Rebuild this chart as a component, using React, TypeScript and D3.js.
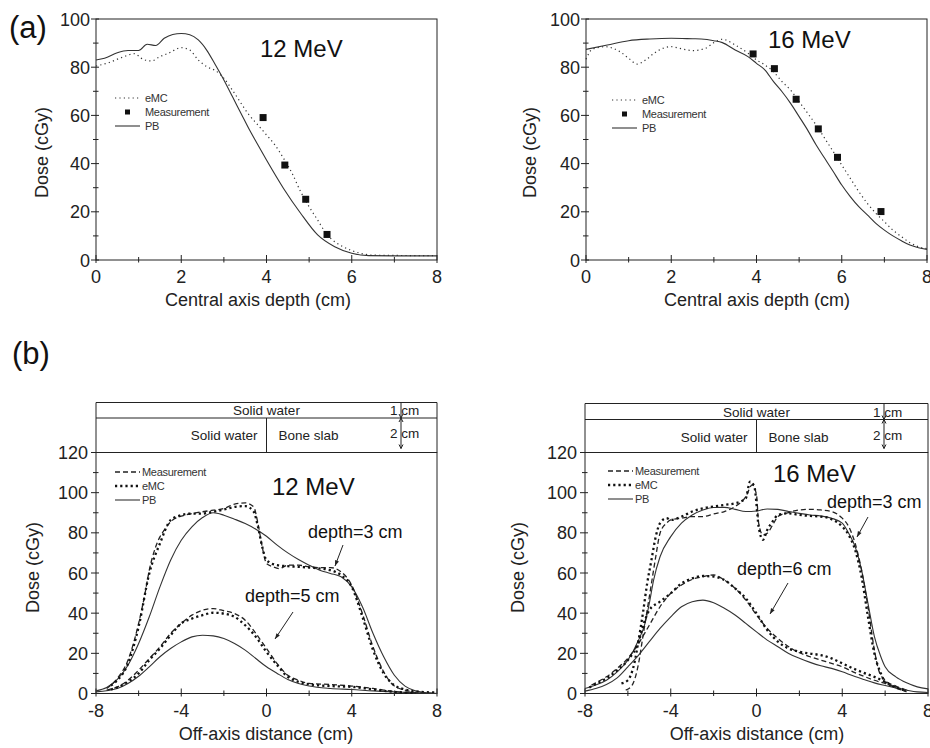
import React from "react";
import * as d3 from "d3";

type Pt = [number, number];

// ---------- (a) 12 MeV, central axis depth dose ----------
const pb12Depth: Pt[] = [
  [0, 83], [0.2, 83.7], [0.5, 86], [0.75, 86.9], [1, 86.9], [1.2, 89.5], [1.4, 89], [1.6, 92],
  [1.8, 93.6], [2, 94], [2.2, 93.5], [2.4, 91.3], [2.6, 87], [2.8, 81], [3, 74.7], [3.2, 67.8],
  [3.4, 60.9], [3.6, 54], [3.8, 47.7], [4, 41.5], [4.4, 29.7], [4.8, 19.4], [5.2, 10.4],
  [5.6, 5.5], [6, 2.8], [6.4, 1.8], [7, 1.7], [8, 1.7],
];
const emc12Depth: Pt[] = [
  [0, 80.5], [0.3, 81.9], [0.6, 84], [0.9, 85.6], [1.1, 83.3], [1.3, 82.6], [1.5, 84.4], [1.7, 85.8],
  [2, 88.1], [2.2, 87.1], [2.4, 83], [2.6, 80.2], [2.8, 78.6], [3, 75.4], [3.2, 70.5], [3.6, 60],
  [3.8, 56], [4, 51.9], [4.2, 47.7], [4.4, 42.2], [4.6, 36], [4.8, 28.4], [5, 22.1], [5.2, 16.6],
  [5.4, 11], [5.6, 7.6], [5.8, 5.5], [6, 3.9], [6.2, 2.8], [6.5, 2], [8, 1.8],
];
const meas12Depth: Pt[] = [[3.92, 59.1], [4.43, 39.4], [4.92, 25.2], [5.42, 10.6]];

// ---------- (a) 16 MeV ----------
const pb16Depth: Pt[] = [
  [0, 87.4], [0.5, 89.2], [1, 91], [1.5, 91.7], [2, 92], [2.5, 91.8], [2.7, 91.7], [3, 91],
  [3.2, 90.2], [3.5, 87.1], [3.8, 84.4], [4, 81.6], [4.2, 78.8], [4.4, 74], [4.6, 69.8], [4.8, 65],
  [5, 59.5], [5.2, 53.9], [5.4, 47.7], [5.6, 42.2], [5.8, 36.7], [6, 31.1], [6.2, 26.3], [6.4, 22.1],
  [6.6, 18.7], [6.8, 15.2], [7, 12.4], [7.2, 10], [7.4, 8], [7.6, 6.2], [7.8, 5.1], [8, 4.4],
];
const emc16Depth: Pt[] = [
  [0, 83.3], [0.15, 87.5], [0.45, 88.5], [0.8, 86.4], [1, 83.7], [1.2, 81.3], [1.4, 83], [1.6, 85.8],
  [1.8, 87.8], [2, 88.5], [2.2, 87.8], [2.5, 86.9], [2.8, 87.8], [3, 90.2], [3.2, 91.6], [3.5, 89.2],
  [3.8, 85.8], [4, 83], [4.2, 80.9], [4.4, 78.1], [4.6, 74], [4.8, 70.5], [5, 65.7], [5.2, 60.9],
  [5.4, 56], [5.6, 50.5], [5.8, 45], [6, 39.4], [6.2, 33.9], [6.4, 28.4], [6.6, 23.5], [6.8, 19.4],
  [7, 15.9], [7.2, 12.4], [7.4, 9.7], [7.6, 7.2], [7.8, 5.5], [8, 4.7],
];
const meas16Depth: Pt[] = [[3.92, 85.5], [4.42, 79.4], [4.93, 66.7], [5.45, 54.4], [5.9, 42.6], [6.92, 20.1]];

// ---------- (b) 12 MeV off-axis profiles ----------
const pb12d3: Pt[] = [
  [-8, 1.3], [-7.5, 3], [-7, 7], [-6.5, 14.1], [-6, 24.9], [-5.5, 38.2], [-5, 53.1], [-4.5, 66.4],
  [-4, 76.3], [-3.5, 83], [-3, 87.6], [-2.5, 90], [-2, 88.8], [-1.5, 86.8], [-1, 84.6], [-0.5, 81.8],
  [0, 78.3], [0.5, 73.9], [1, 70], [1.5, 66.7], [2, 63.9], [2.5, 61.4], [3, 59.8], [3.5, 58.1],
  [4, 53.1], [4.5, 43.2], [5, 29.9], [5.5, 18.3], [6, 9.1], [6.5, 3.7], [7, 1.3], [7.5, 0.3], [8, 0],
];
const meas12d3: Pt[] = [
  [-7.5, 2.5], [-7, 7.5], [-6.5, 16.6], [-6, 34.9], [-5.7, 49.8], [-5.5, 61.4], [-5.2, 73], [-5, 78],
  [-4.8, 81.3], [-4.5, 85.5], [-4, 88.3], [-3.5, 89.6], [-3, 90.5], [-2.5, 91.3], [-2, 92.1],
  [-1.5, 94.3], [-1, 94.9], [-0.6, 92.9], [-0.4, 84.6], [-0.2, 73], [0, 64.7], [0.3, 63.1],
  [0.6, 62.2], [1, 63.9], [1.5, 63.9], [2, 63.1], [2.5, 62.7], [3, 62.7], [3.5, 60.6], [4, 53.9],
  [4.5, 39.8], [5, 23.2], [5.5, 10.8], [6, 3.7], [6.5, 1.7], [7, 0.5], [8, 0],
];
const emc12d3: Pt[] = [
  [-7.3, 4], [-7, 6.6], [-6.5, 14.9], [-6, 33.2], [-5.5, 59.8], [-5, 74.7], [-4.5, 86.3], [-4, 88.8],
  [-3.5, 89.6], [-3, 89.6], [-2.5, 90.5], [-2, 91.6], [-1.5, 92.9], [-1, 93.3], [-0.6, 90.5],
  [-0.4, 83], [-0.2, 73], [0, 66.4], [0.5, 63.9], [1, 63.4], [2, 62.7], [3, 61.4], [3.5, 58.9],
  [4, 53.1], [4.5, 38.2], [5, 21.6], [5.5, 10], [6, 4.1], [6.5, 2], [7, 1], [8, 0.5],
];
const pb12d5: Pt[] = [
  [-8, 0.8], [-7, 2.5], [-6.5, 5], [-6, 8.6], [-5.5, 13.3], [-5, 18.3], [-4.5, 22.4], [-4, 25.7],
  [-3.5, 28.2], [-3, 29], [-2.5, 28.7], [-2, 27.4], [-1.5, 24.9], [-1, 21.6], [-0.5, 17.4], [0, 13.3],
  [0.5, 10], [1, 7], [1.5, 5], [2, 3.7], [3, 2.5], [4, 2], [5, 1.3], [6, 0.8], [7, 0.3], [8, 0],
];
const meas12d5: Pt[] = [
  [-7.5, 1.7], [-7, 3.3], [-6.5, 6.6], [-6, 11.6], [-5.5, 17.4], [-5, 23.2], [-4.5, 29.9], [-4, 34.9],
  [-3.5, 39], [-3, 41.5], [-2.5, 42.3], [-2, 41.2], [-1.5, 39.8], [-1, 36.5], [-0.5, 29.9], [0, 22.4],
  [0.5, 14.9], [1, 9.1], [1.5, 6.6], [2, 5], [3, 4.5], [4, 3.7], [5, 2.5], [5.5, 1.7], [6, 1], [7, 0.3],
];
const emc12d5: Pt[] = [
  [-7.3, 2], [-7, 3], [-6.5, 5.8], [-6, 10], [-5.5, 16.6], [-5, 22.4], [-4.5, 29], [-4, 34.9],
  [-3.5, 37.3], [-3, 39], [-2.5, 40.2], [-2, 39.8], [-1.5, 38.2], [-1, 34], [-0.5, 28.2], [0, 20.7],
  [0.5, 14.1], [1, 8.3], [1.5, 5.8], [2, 4.6], [3, 3.7], [4, 3.3], [5, 2], [6, 0.8], [7, 0.3],
];

// ---------- (b) 16 MeV off-axis profiles ----------
const pb16d3: Pt[] = [
  [-8, 2.5], [-7.5, 4.2], [-7, 6.6], [-6.5, 10.8], [-6, 16.6], [-5.5, 26.6], [-5.2, 34.9], [-5, 44.9],
  [-4.8, 56.5], [-4.5, 68.1], [-4, 78.1], [-3.5, 84.8], [-3, 88.9], [-2.5, 91.4], [-2, 92.6],
  [-1.5, 92.7], [-1, 91.7], [-0.5, 90.6], [0, 90.9], [0.5, 91.9], [1, 91.7], [1.5, 90.6], [2, 89.7],
  [2.5, 88.9], [3, 88.4], [3.5, 87.3], [4, 84.8], [4.3, 79.8], [4.6, 73.1], [4.9, 61.5], [5.2, 44.9],
  [5.5, 28.3], [5.8, 18.3], [6, 13.3], [6.5, 8.3], [7, 5.3], [7.5, 3.3], [8, 2.3],
];
const meas16d3: Pt[] = [
  [-6.1, 1.7], [-5.8, 4.2], [-5.5, 15], [-5.3, 28.3], [-5.1, 41.5], [-4.9, 54.8], [-4.7, 68.1],
  [-4.5, 79.8], [-4.2, 84.8], [-4, 86.4], [-3.5, 87.3], [-3, 88.1], [-2.5, 88.1], [-2, 89.4],
  [-1.5, 90.6], [-1, 93.1], [-0.5, 98], [-0.2, 103.9], [0, 98.9], [0.1, 84.8], [0.3, 79], [0.5, 79.8],
  [0.8, 84.8], [1, 88.1], [1.5, 90.1], [2, 91.4], [2.5, 91.7], [3, 91.4], [3.5, 90.6], [4, 87.3],
  [4.3, 83.1], [4.6, 74.8], [4.9, 61.5], [5.2, 43.2], [5.5, 21.6], [5.7, 11.6], [6, 6.6], [6.5, 3.7],
  [7, 1.7],
];
const emc16d3: Pt[] = [
  [-6.3, 5], [-6, 6.6], [-5.7, 15], [-5.5, 26.6], [-5.3, 39.9], [-5.1, 54.8], [-4.9, 66.5], [-4.7, 78.1],
  [-4.5, 84.8], [-4.2, 87.3], [-4, 86.4], [-3.5, 88.1], [-3, 90.6], [-2.5, 92.2], [-2, 93.1],
  [-1.5, 93.9], [-1, 94.7], [-0.5, 97.2], [-0.3, 105.5], [-0.1, 103], [0.1, 83.1], [0.3, 76.5],
  [0.5, 81.4], [0.8, 86.4], [1, 88.9], [1.5, 89.7], [2, 88.9], [2.5, 88.4], [3, 88.1], [3.5, 86.8],
  [4, 83.1], [4.3, 78.9], [4.6, 71.5], [4.9, 58.2], [5.2, 38.2], [5.5, 19.9], [5.8, 10], [6, 5.8],
  [6.5, 3], [7, 1.3],
];
const pb16d6: Pt[] = [
  [-8, 1.2], [-7.5, 2.5], [-7, 4.5], [-6.5, 7.8], [-6, 13.3], [-5.5, 19.1], [-5, 25.8], [-4.5, 32.4],
  [-4, 38.2], [-3.5, 43.2], [-3, 45.7], [-2.5, 46.5], [-2, 45.2], [-1.5, 42.4], [-1, 39.1], [-0.5, 34.9],
  [0, 30.7], [0.5, 26.6], [1, 23.3], [1.5, 19.9], [2, 17.5], [2.5, 15.5], [3, 13.8], [3.5, 12.5],
  [4, 10.8], [4.5, 8.8], [5, 7], [5.5, 5.3], [6, 4], [6.5, 2.8], [7, 1.7], [7.5, 0.8], [8, 0.5],
];
const meas16d6: Pt[] = [
  [-7.7, 4.2], [-7.5, 5.3], [-7, 8.3], [-6.5, 12.5], [-6, 17.5], [-5.5, 24.9], [-5, 34], [-4.5, 43.2],
  [-4, 49.9], [-3.5, 54], [-3, 56.8], [-2.5, 58.2], [-2, 59], [-1.5, 56.5], [-1, 52.4], [-0.5, 46.5],
  [0, 39.1], [0.5, 32.4], [1, 27.4], [1.5, 23.3], [2, 20.3], [2.5, 18.3], [3, 16.6], [3.5, 15],
  [4, 13.3], [4.5, 10.8], [5, 8.6], [5.5, 6.6], [6, 5], [6.5, 3], [7, 0.8],
];
const emc16d6: Pt[] = [
  [-7.8, 3], [-7.5, 4.7], [-7, 7.5], [-6.5, 11.6], [-6, 16.6], [-5.5, 25.8], [-5.2, 36.6], [-5, 41.5],
  [-4.5, 45.7], [-4, 49.9], [-3.5, 54.8], [-3, 57.3], [-2.5, 58.5], [-2, 58.2], [-1.5, 56.5], [-1, 52.4],
  [-0.5, 47.4], [0, 39.9], [0.5, 31.6], [1, 25.8], [1.5, 22.4], [2, 20.8], [2.5, 19.9], [3, 19.1],
  [3.5, 17.5], [4, 15], [4.5, 12.5], [5, 10.3], [5.5, 8.3], [6, 5.8], [6.5, 3], [7, 1.3],
];

// ---------- tick values & labels ----------
const depthMajor = [0, 2, 4, 6, 8];
const depthMinor = [1, 3, 5, 7];
const doseMajorA = [0, 20, 40, 60, 80, 100];
const doseMinorA = [10, 30, 50, 70, 90];
const offMajor = [-8, -4, 0, 4, 8];
const offMinor = [-6, -2, 2, 6];
const doseMajorB = [0, 20, 40, 60, 80, 100, 120];
const doseMinorB = [10, 30, 50, 70, 90, 110];
const legendA = ["eMC", "Measurement", "PB"];
const legendB = ["Measurement", "eMC", "PB"];

const FONT = "'Liberation Sans', Arial, Helvetica, sans-serif";
const INK = "#222";

type Box = { left: number; right: number; top: number; bottom: number };

function Axes({ box, xs, ys, xMajor, xMinor, yMajor, yMinor, xTitle, xTitleX, yTitleX, yTitleY, yLabelGap }: {
  box: Box; xs: d3.ScaleLinear<number, number>; ys: d3.ScaleLinear<number, number>;
  xMajor: number[]; xMinor: number[]; yMajor: number[]; yMinor: number[];
  xTitle: string; xTitleX: number; yTitleX: number; yTitleY: number; yLabelGap: number;
}) {
  return (
    <g fill="none" stroke={INK} strokeWidth={1}>
      <rect x={box.left} y={box.top} width={box.right - box.left} height={box.bottom - box.top} />
      {xMajor.map((v) => (
        <line key={"xM" + v} x1={xs(v)} x2={xs(v)} y1={box.bottom - 5} y2={box.bottom + 3} />
      ))}
      {xMinor.map((v) => (
        <line key={"xm" + v} x1={xs(v)} x2={xs(v)} y1={box.bottom - 3} y2={box.bottom + 2.5} />
      ))}
      {yMajor.map((v) => (
        <line key={"yM" + v} x1={box.left - 5} x2={box.left + 3} y1={ys(v)} y2={ys(v)} />
      ))}
      {yMinor.map((v) => (
        <line key={"ym" + v} x1={box.left - 3} x2={box.left + 2.5} y1={ys(v)} y2={ys(v)} />
      ))}
      <g fill={INK} stroke="none" fontFamily={FONT} fontSize={18}>
        {xMajor.map((v) => (
          <text key={"xl" + v} x={xs(v)} y={box.bottom + 23} textAnchor="middle">
            {v < 0 ? "-" + Math.abs(v) : String(v)}
          </text>
        ))}
        {yMajor.map((v) => (
          <text key={"yl" + v} x={box.left - yLabelGap} y={ys(v) + 6.5} textAnchor="end">
            {v}
          </text>
        ))}
        <text x={xTitleX} y={box.bottom + 46} textAnchor="middle">{xTitle}</text>
        <text transform={`translate(${yTitleX},${yTitleY}) rotate(-90)`} textAnchor="middle">Dose (cGy)</text>
      </g>
    </g>
  );
}

function lineOf(xs: d3.ScaleLinear<number, number>, ys: d3.ScaleLinear<number, number>) {
  return d3.line<Pt>().x((d) => xs(d[0])).y((d) => ys(d[1])).curve(d3.curveMonotoneX);
}

const PB_STYLE = { stroke: "#333", strokeWidth: 1.1, fill: "none" };
const EMC_A_STYLE = { stroke: "#333", strokeWidth: 1.2, fill: "none", strokeDasharray: "1.2 3.2" };
const MEAS_B_STYLE = { stroke: "#222", strokeWidth: 1.3, fill: "none", strokeDasharray: "5 3" };
const EMC_B_STYLE = { stroke: "#111", strokeWidth: 2.3, fill: "none", strokeDasharray: "2.2 3" };

function DepthPanel({ box, pb, emc, meas, energy, energyX, energyY, legX, legY, xTitleX, yTitleX }: {
  box: Box; pb: Pt[]; emc: Pt[]; meas: Pt[]; energy: string; energyX: number; energyY: number;
  legX: number; legY: number; xTitleX: number; yTitleX: number;
}) {
  const xs = d3.scaleLinear().domain([0, 8]).range([box.left, box.right]);
  const ys = d3.scaleLinear().domain([0, 100]).range([box.bottom, box.top]);
  const line = lineOf(xs, ys);
  const sq = 7;
  return (
    <g>
      <Axes box={box} xs={xs} ys={ys} xMajor={depthMajor} xMinor={depthMinor} yMajor={doseMajorA}
        yMinor={doseMinorA} xTitle="Central axis depth (cm)" xTitleX={xTitleX} yTitleX={yTitleX}
        yTitleY={152.5} yLabelGap={6} />
      <path d={line(emc) || ""} {...EMC_A_STYLE} />
      <path d={line(pb) || ""} {...PB_STYLE} />
      {meas.map((d, i) => (
        <rect key={i} x={xs(d[0]) - sq / 2} y={ys(d[1]) - sq / 2} width={sq} height={sq} fill="#111" />
      ))}
      <text x={energyX} y={energyY} fontFamily={FONT} fontSize={24} fill="#111">{energy}</text>
      <g fontFamily={FONT} fontSize={11} fill="#333" letterSpacing={-0.3}>
        <line x1={legX} x2={legX + 25} y1={legY} y2={legY} {...EMC_A_STYLE} />
        <rect x={legX + 10} y={legY + 14 - 2.5} width={5} height={5} fill="#111" />
        <line x1={legX} x2={legX + 25} y1={legY + 28} y2={legY + 28} {...PB_STYLE} />
        {legendA.map((t, i) => (
          <text key={t} x={legX + 30} y={legY + 14 * i + 4}>{t}</text>
        ))}
      </g>
    </g>
  );
}

function ProfilePanel({ box, diagTop, diagMid, curves, energy, energyX, energyY, legX, legY, xTitleX,
  yTitleX, cmX, labels }: {
  box: Box; diagTop: number; diagMid: number; curves: { pb: Pt[]; meas: Pt[]; emc: Pt[] }[];
  energy: string; energyX: number; energyY: number; legX: number; legY: number; xTitleX: number;
  yTitleX: number; cmX: number;
  labels: { text: string; x: number; y: number; ax1: number; ay1: number; ax2: number; ay2: number }[];
}) {
  const xs = d3.scaleLinear().domain([-8, 8]).range([box.left, box.right]);
  const ys = d3.scaleLinear().domain([0, 120]).range([box.bottom, box.top]);
  const line = lineOf(xs, ys);
  const x0 = xs(0);
  return (
    <g>
      {/* phantom diagram */}
      <g fill="none" stroke={INK} strokeWidth={1}>
        <line x1={box.left} x2={box.right} y1={diagTop} y2={diagTop} />
        <line x1={box.left} x2={box.right} y1={diagMid} y2={diagMid} />
        <line x1={box.left} x2={box.left} y1={diagTop} y2={box.top} />
        <line x1={box.right} x2={box.right} y1={diagTop} y2={box.top} />
        <line x1={x0} x2={x0} y1={diagMid} y2={box.top} />
        <line x1={cmX} x2={cmX} y1={diagTop} y2={box.top - 4} />
        <path d={`M${cmX - 2},${diagMid - 4} L${cmX},${diagMid} L${cmX + 2},${diagMid - 4}`} />
        <path d={`M${cmX - 2},${diagMid + 4} L${cmX},${diagMid} L${cmX + 2},${diagMid + 4}`} />
        <path d={`M${cmX - 2},${box.top - 8} L${cmX},${box.top - 4} L${cmX + 2},${box.top - 8}`} />
      </g>
      <g fontFamily={FONT} fontSize={13.5} fill="#222">
        <text x={x0} y={diagMid - 3} textAnchor="middle">Solid water</text>
        <text x={x0 - 9} y={diagMid + 22} textAnchor="end">Solid water</text>
        <text x={x0 + 12} y={diagMid + 22}>Bone slab</text>
        <text x={cmX - 11} y={diagMid - 3}>1 cm</text>
        <text x={cmX - 11} y={diagMid + 20}>2 cm</text>
      </g>
      <Axes box={box} xs={xs} ys={ys} xMajor={offMajor} xMinor={offMinor} yMajor={doseMajorB}
        yMinor={doseMinorB} xTitle="Off-axis distance (cm)" xTitleX={xTitleX} yTitleX={yTitleX}
        yTitleY={567.5} yLabelGap={8} />
      {curves.map((c, i) => (
        <g key={i}>
          <path d={line(c.pb) || ""} {...PB_STYLE} />
          <path d={line(c.meas) || ""} {...MEAS_B_STYLE} />
          <path d={line(c.emc) || ""} {...EMC_B_STYLE} />
        </g>
      ))}
      <text x={energyX} y={energyY} fontFamily={FONT} fontSize={24} fill="#111">{energy}</text>
      {labels.map((l) => {
        const ang = Math.atan2(l.ay2 - l.ay1, l.ax2 - l.ax1);
        const h = 6;
        const p1 = [l.ax2 - h * Math.cos(ang - 0.35), l.ay2 - h * Math.sin(ang - 0.35)];
        const p2 = [l.ax2 - h * Math.cos(ang + 0.35), l.ay2 - h * Math.sin(ang + 0.35)];
        return (
          <g key={l.text}>
            <text x={l.x} y={l.y} fontFamily={FONT} fontSize={18} fill="#111">{l.text}</text>
            <line x1={l.ax1} y1={l.ay1} x2={l.ax2} y2={l.ay2} stroke="#222" strokeWidth={1} />
            <path d={`M${p1[0]},${p1[1]} L${l.ax2},${l.ay2} L${p2[0]},${p2[1]} Z`} fill="#222" />
          </g>
        );
      })}
      <g fontFamily={FONT} fontSize={11} fill="#333" letterSpacing={-0.3}>
        <line x1={legX} x2={legX + 25} y1={legY} y2={legY} {...MEAS_B_STYLE} />
        <line x1={legX} x2={legX + 25} y1={legY + 14} y2={legY + 14} {...EMC_B_STYLE} />
        <line x1={legX} x2={legX + 25} y1={legY + 28} y2={legY + 28} {...PB_STYLE} />
        {legendB.map((t, i) => (
          <text key={t} x={legX + 27} y={legY + 14 * i + 4}>{t}</text>
        ))}
      </g>
    </g>
  );
}

export default function App() {
  return (
    <svg width={930} height={748} viewBox="0 0 930 748"
      style={{ position: "absolute", left: 0, top: 0, background: "#fff" }}>
      <rect width={930} height={748} fill="#fff" />
      <text x={9} y={38} fontFamily={FONT} fontSize={31} fill="#111">(a)</text>
      <text x={12} y={364} fontFamily={FONT} fontSize={31} fill="#111">(b)</text>
      <DepthPanel box={{ left: 96, right: 437, top: 19, bottom: 260 }} pb={pb12Depth} emc={emc12Depth}
        meas={meas12Depth} energy="12 MeV" energyX={260} energyY={57} legX={115} legY={98}
        xTitleX={258} yTitleX={48} />
      <DepthPanel box={{ left: 586, right: 927, top: 19, bottom: 260 }} pb={pb16Depth} emc={emc16Depth}
        meas={meas16Depth} energy="16 MeV" energyX={768} energyY={48} legX={612} legY={100}
        xTitleX={757} yTitleX={536} />
      <ProfilePanel box={{ left: 96, right: 437, top: 452.5, bottom: 693.5 }} diagTop={402.5} diagMid={418}
        curves={[{ pb: pb12d3, meas: meas12d3, emc: emc12d3 }, { pb: pb12d5, meas: meas12d5, emc: emc12d5 }]}
        energy="12 MeV" energyX={272} energyY={495} legX={115} legY={472} xTitleX={266} yTitleX={39}
        cmX={401}
        labels={[
          { text: "depth=3 cm", x: 308, y: 538, ax1: 343, ay1: 545, ax2: 335, ay2: 566 },
          { text: "depth=5 cm", x: 245, y: 602, ax1: 293, ay1: 612, ax2: 275, ay2: 639 },
        ]} />
      <ProfilePanel box={{ left: 585, right: 928, top: 452.5, bottom: 693.5 }} diagTop={403.5} diagMid={419.5}
        curves={[{ pb: pb16d3, meas: meas16d3, emc: emc16d3 }, { pb: pb16d6, meas: meas16d6, emc: emc16d6 }]}
        energy="16 MeV" energyX={773} energyY={482} legX={608} legY={471} xTitleX={757} yTitleX={524}
        cmX={884}
        labels={[
          { text: "depth=3 cm", x: 827, y: 508, ax1: 868, ay1: 517, ax2: 857, ay2: 537 },
          { text: "depth=6 cm", x: 737, y: 575, ax1: 788, ay1: 583, ax2: 770, ay2: 614 },
        ]} />
    </svg>
  );
}
